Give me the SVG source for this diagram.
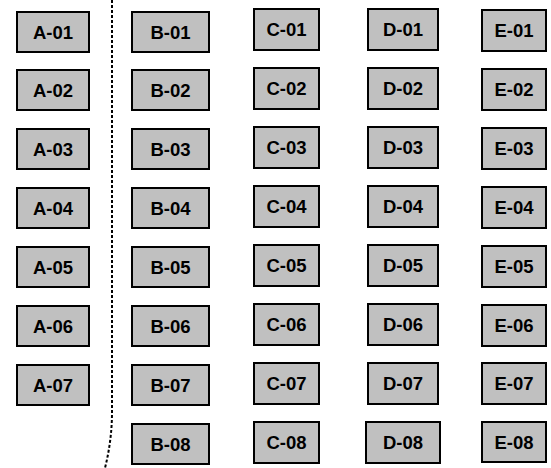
<svg xmlns="http://www.w3.org/2000/svg" width="551" height="468" viewBox="0 0 551 468">
<style>
.b{fill:#c0c0c0;stroke:#000;stroke-width:2}
.t{font-family:"Liberation Sans",Arial,sans-serif;font-weight:bold;font-size:18.5px;fill:#000;text-anchor:middle}
.d{fill:none;stroke:#000;stroke-width:2;stroke-dasharray:3 2}
</style>
<rect width="551" height="468" fill="#fff"/>
<g id="connectors">
<path class="d" d="M112,0 L112,412 Q112,440 105,468"/>
</g>
<g id="A-01"><rect class="b" x="17" y="12" width="72" height="40"/><text class="t" x="53" y="38.5">A-01</text></g>
<g id="A-02"><rect class="b" x="17" y="70" width="72" height="40"/><text class="t" x="53" y="96.5">A-02</text></g>
<g id="A-03"><rect class="b" x="17" y="129" width="72" height="40"/><text class="t" x="53" y="155.5">A-03</text></g>
<g id="A-04"><rect class="b" x="17" y="188" width="72" height="40"/><text class="t" x="53" y="214.5">A-04</text></g>
<g id="A-05"><rect class="b" x="17" y="247" width="72" height="40"/><text class="t" x="53" y="273.5">A-05</text></g>
<g id="A-06"><rect class="b" x="17" y="306" width="72" height="40"/><text class="t" x="53" y="332.5">A-06</text></g>
<g id="A-07"><rect class="b" x="17" y="365" width="72" height="40"/><text class="t" x="53" y="391.5">A-07</text></g>
<g id="B-01"><rect class="b" x="132" y="12" width="77" height="40"/><text class="t" x="170.5" y="38.5">B-01</text></g>
<g id="B-02"><rect class="b" x="132" y="70" width="77" height="40"/><text class="t" x="170.5" y="96.5">B-02</text></g>
<g id="B-03"><rect class="b" x="132" y="129" width="77" height="40"/><text class="t" x="170.5" y="155.5">B-03</text></g>
<g id="B-04"><rect class="b" x="132" y="188" width="77" height="40"/><text class="t" x="170.5" y="214.5">B-04</text></g>
<g id="B-05"><rect class="b" x="132" y="247" width="77" height="40"/><text class="t" x="170.5" y="273.5">B-05</text></g>
<g id="B-06"><rect class="b" x="132" y="306" width="77" height="40"/><text class="t" x="170.5" y="332.5">B-06</text></g>
<g id="B-07"><rect class="b" x="132" y="365" width="77" height="40"/><text class="t" x="170.5" y="391.5">B-07</text></g>
<g id="B-08"><rect class="b" x="132" y="424" width="77" height="40"/><text class="t" x="170.5" y="450.5">B-08</text></g>
<g id="C-01"><rect class="b" x="254" y="9" width="65" height="41"/><text class="t" x="286.5" y="36">C-01</text></g>
<g id="C-02"><rect class="b" x="254" y="68" width="65" height="41"/><text class="t" x="286.5" y="95">C-02</text></g>
<g id="C-03"><rect class="b" x="254" y="127" width="65" height="41"/><text class="t" x="286.5" y="154">C-03</text></g>
<g id="C-04"><rect class="b" x="254" y="186" width="65" height="41"/><text class="t" x="286.5" y="213">C-04</text></g>
<g id="C-05"><rect class="b" x="254" y="245" width="65" height="41"/><text class="t" x="286.5" y="272">C-05</text></g>
<g id="C-06"><rect class="b" x="254" y="304" width="65" height="41"/><text class="t" x="286.5" y="331">C-06</text></g>
<g id="C-07"><rect class="b" x="254" y="363" width="65" height="41"/><text class="t" x="286.5" y="390">C-07</text></g>
<g id="C-08"><rect class="b" x="254" y="422" width="65" height="41"/><text class="t" x="286.5" y="449">C-08</text></g>
<g id="D-01"><rect class="b" x="368" y="9" width="70" height="41"/><text class="t" x="403" y="36">D-01</text></g>
<g id="D-02"><rect class="b" x="368" y="68" width="70" height="41"/><text class="t" x="403" y="95">D-02</text></g>
<g id="D-03"><rect class="b" x="368" y="127" width="70" height="41"/><text class="t" x="403" y="154">D-03</text></g>
<g id="D-04"><rect class="b" x="368" y="186" width="70" height="41"/><text class="t" x="403" y="213">D-04</text></g>
<g id="D-05"><rect class="b" x="368" y="245" width="70" height="41"/><text class="t" x="403" y="272">D-05</text></g>
<g id="D-06"><rect class="b" x="368" y="304" width="70" height="41"/><text class="t" x="403" y="331">D-06</text></g>
<g id="D-07"><rect class="b" x="368" y="363" width="70" height="41"/><text class="t" x="403" y="390">D-07</text></g>
<g id="D-08"><rect class="b" x="366" y="422" width="74" height="41"/><text class="t" x="403" y="449">D-08</text></g>
<g id="E-01"><rect class="b" x="482" y="10" width="64" height="41"/><text class="t" x="514" y="37">E-01</text></g>
<g id="E-02"><rect class="b" x="482" y="69" width="64" height="41"/><text class="t" x="514" y="96">E-02</text></g>
<g id="E-03"><rect class="b" x="482" y="128" width="64" height="41"/><text class="t" x="514" y="155">E-03</text></g>
<g id="E-04"><rect class="b" x="482" y="187" width="64" height="41"/><text class="t" x="514" y="214">E-04</text></g>
<g id="E-05"><rect class="b" x="482" y="246" width="64" height="41"/><text class="t" x="514" y="273">E-05</text></g>
<g id="E-06"><rect class="b" x="482" y="305" width="64" height="41"/><text class="t" x="514" y="332">E-06</text></g>
<g id="E-07"><rect class="b" x="482" y="363" width="64" height="41"/><text class="t" x="514" y="390">E-07</text></g>
<g id="E-08"><rect class="b" x="482" y="422" width="64" height="40"/><text class="t" x="514" y="448.5">E-08</text></g>
</svg>
